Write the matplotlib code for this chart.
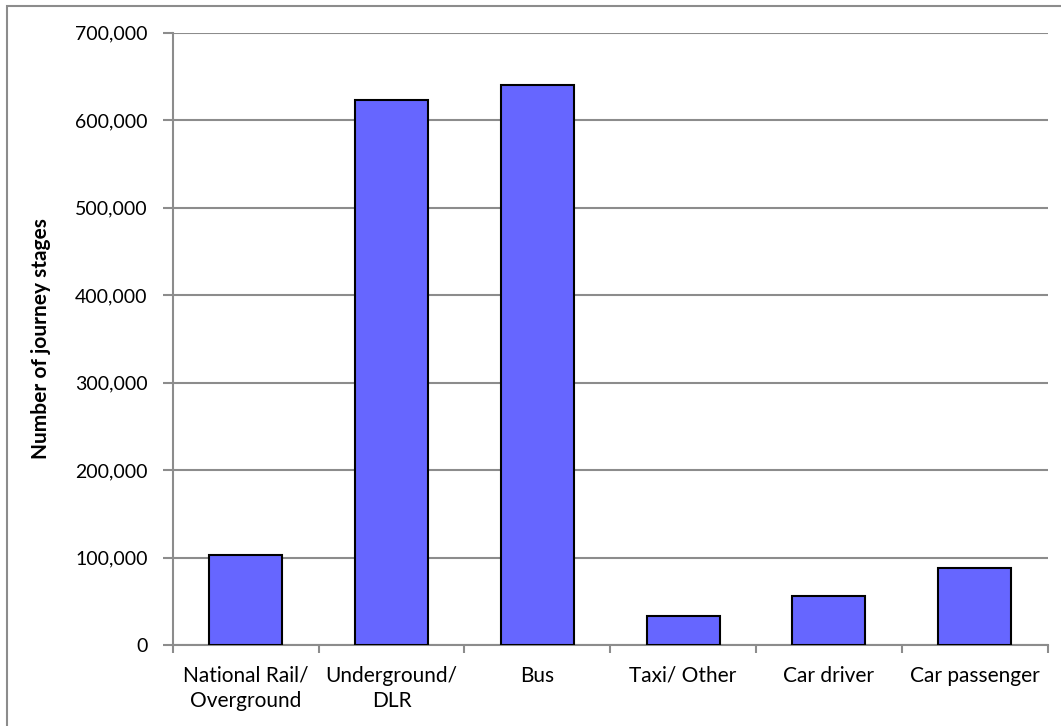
import numpy as np
import matplotlib.pyplot as plt
from matplotlib.patches import Rectangle
from matplotlib.ticker import FuncFormatter

# Journey stages by mode
modes = ['National Rail/\nOverground', 'Underground/\nDLR', 'Bus',
         'Taxi/ Other', 'Car driver', 'Car passenger']
stages = [102600, 622500, 640500, 33000, 56000, 88200]

plt.rcParams['font.family'] = ['Lato', 'DejaVu Sans']

fig = plt.figure(figsize=(10.61, 7.26), dpi=100)
W, H = 1061, 726
ax = fig.add_axes([172.7 / W, 1 - 645 / H, (1047.7 - 172.7) / W, (645 - 32.5) / H])

# outer chart border
fig.patches.append(Rectangle((7 / W, -0.05), 1.2, 1 - 6 / H + 0.05,
                             transform=fig.transFigure, fill=False,
                             edgecolor='#8c8c8c', linewidth=1.5))

x = np.arange(len(modes))
ax.bar(x, stages, width=0.5, color='#6666ff', edgecolor='black', linewidth=1.5, zorder=3)

ax.set_xlim(-0.5, len(modes) - 0.5)
ax.set_ylim(0, 700000)
ax.set_yticks(np.arange(0, 700001, 100000))
ax.yaxis.set_major_formatter(FuncFormatter(lambda v, p: f'{int(v):,}'))
ax.grid(axis='y', color='#8c8c8c', linewidth=1.5, zorder=0)

ax.set_xticks(x)
ax.set_xticklabels(modes, fontsize=15, linespacing=1.3)
ax.set_xticks(np.arange(-0.5, len(modes), 1), minor=True)
ax.tick_params(axis='x', which='major', length=0, pad=15)
ax.tick_params(axis='x', which='minor', length=6, width=1.5, color='#8c8c8c')
ax.tick_params(axis='y', length=7, width=1.5, color='#8c8c8c', pad=11, labelsize=14)

for side in ['top', 'right']:
    ax.spines[side].set_visible(False)
for side in ['left', 'bottom']:
    ax.spines[side].set_color('#8c8c8c')
    ax.spines[side].set_linewidth(1.5)

ax.set_ylabel('Number of journey stages', fontsize=15, fontweight='bold')
ax.yaxis.set_label_coords(-0.139, 0.5)

fig.savefig('out.png', dpi=100)
